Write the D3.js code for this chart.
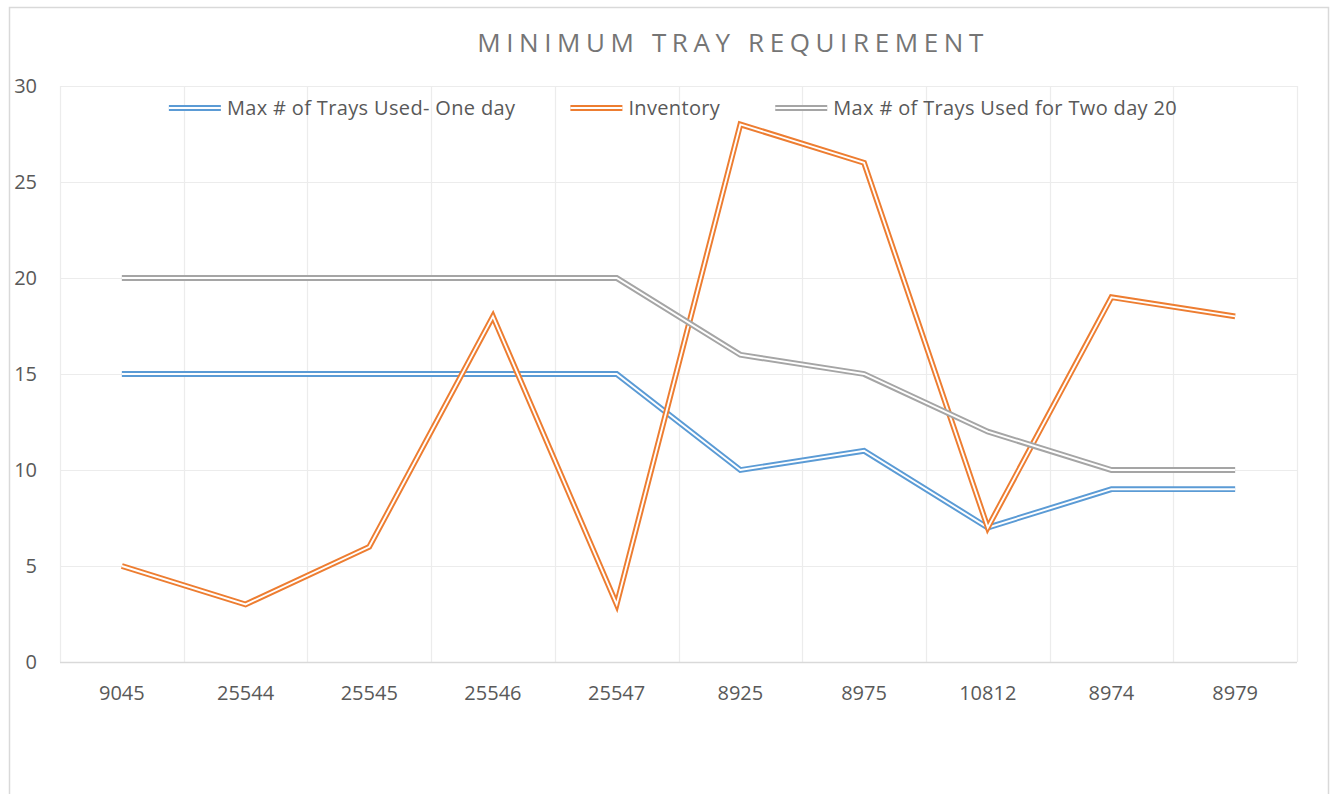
<!DOCTYPE html>
<html><head><meta charset="utf-8">
<script src="https://cdn.jsdelivr.net/npm/d3@7"></script>
<style>
html,body{margin:0;padding:0;background:#fff;}
svg{display:block;font-family:"Open Sans",sans-serif;}
</style></head>
<body><svg id="c" width="1333" height="794"></svg>
<script>
const categories = ["9045","25544","25545","25546","25547","8925","8975","10812","8974","8979"];
const oneDay = [15,15,15,15,15,10,11,7,9,9];
const inventory = [5,3,6,18,3,28,26,7,19,18];
const twoDay = [20,20,20,20,20,16,15,12,10,10];
const yTicks = [0,5,10,15,20,25,30];
const seriesNames = ["Max # of Trays Used- One day","Inventory","Max # of Trays Used for Two day 20"];
const seriesColors = ["#5b9bd5","#ed7d31","#a5a5a5"];

const svg = d3.select("#c");
svg.append("rect").attr("x",9.5).attr("y",7.5).attr("width",1319).attr("height",800)
  .attr("fill","#fff").attr("stroke","#d9d9d9").attr("stroke-width",1.5);

const L=60,R=1297,T=86,B=662;
const x = d3.scaleBand().domain(categories).range([L,R]).padding(0);
const y = d3.scaleLinear().domain([0,30]).range([B,T]);

const g = svg.append("g");
g.selectAll(".hg").data(yTicks.filter(d=>d>0)).join("line")
  .attr("x1",L).attr("x2",R).attr("y1",d=>Math.round(y(d))+0.5).attr("y2",d=>Math.round(y(d))+0.5)
  .attr("stroke","#ececec").attr("stroke-width",1.2);
const bounds = categories.map(c=>x(c)).concat([R]);
g.selectAll(".vg").data(bounds).join("line")
  .attr("x1",d=>Math.round(d)+0.5).attr("x2",d=>Math.round(d)+0.5).attr("y1",T).attr("y2",B)
  .attr("stroke","#ececec").attr("stroke-width",1.2);
g.append("line").attr("x1",L).attr("x2",R).attr("y1",B+0.5).attr("y2",B+0.5)
  .attr("stroke","#d9d9d9").attr("stroke-width",1.3);

g.selectAll(".yl").data(yTicks).join("text")
  .attr("x",37).attr("y",d=>y(d)).attr("dy","0.35em").attr("text-anchor","end")
  .attr("font-size",20).attr("fill","#595959").text(d=>d);
g.selectAll(".xl").data(categories).join("text")
  .attr("x",d=>x(d)+x.bandwidth()/2).attr("y",700).attr("text-anchor","middle")
  .attr("font-size",20).attr("fill","#595959").text(d=>d);

const line = d3.line().x((d,i)=>x(categories[i])+x.bandwidth()/2).y(d=>y(d));
const all = [oneDay,inventory,twoDay];
all.forEach((s,i)=>{
  g.append("path").attr("d",line(s)).attr("fill","none").attr("stroke",seriesColors[i])
    .attr("stroke-width",5.8).attr("stroke-linejoin","miter");
  g.append("path").attr("d",line(s)).attr("fill","none").attr("stroke","#fff")
    .attr("stroke-width",1.9).attr("stroke-linejoin","miter");
});

svg.append("text").attr("x",733).attr("y",52).attr("text-anchor","middle")
  .attr("font-size",26).attr("letter-spacing","5.6px").attr("fill","#757575")
  .text("MINIMUM TRAY REQUIREMENT");

const lg = svg.append("g");
const items = lg.selectAll("g").data(seriesNames).join("g");
items.append("text").attr("font-size",20).attr("letter-spacing","0.35px").attr("fill","#595959").attr("dy","0.35em").text(d=>d);
let widths = [];
items.select("text").each(function(){widths.push(this.getComputedTextLength());});
const sw=52, gapT=6, gapI=55;
const total = d3.sum(widths)+seriesNames.length*(sw+gapT)+(seriesNames.length-1)*gapI;
let cx = 673 - total/2;
const ly = 108;
items.each(function(d,i){
  const it = d3.select(this);
  it.insert("line","text").attr("x1",cx).attr("x2",cx+sw).attr("y1",ly).attr("y2",ly)
    .attr("stroke",seriesColors[i]).attr("stroke-width",5.8);
  it.insert("line","text").attr("x1",cx).attr("x2",cx+sw).attr("y1",ly).attr("y2",ly)
    .attr("stroke","#fff").attr("stroke-width",1.9);
  it.select("text").attr("x",cx+sw+gapT).attr("y",ly);
  cx += sw+gapT+widths[i]+gapI;
});
</script></body></html>
